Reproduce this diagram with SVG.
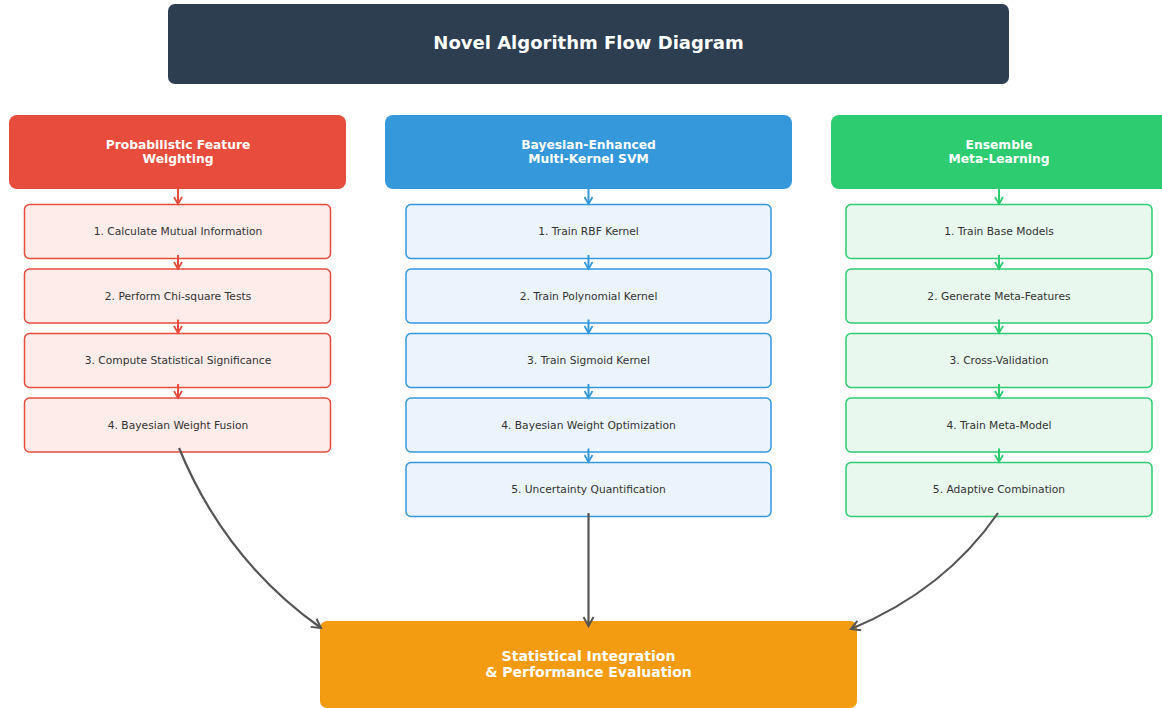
<svg xmlns="http://www.w3.org/2000/svg" width="1162" height="708" viewBox="0 0 1162 708">
<defs>
<style>
.hdr{font-family:"DejaVu Sans",sans-serif;font-weight:bold;font-size:12.3px;fill:#fff;text-anchor:middle}
.st{font-family:"DejaVu Sans",sans-serif;font-size:10.7px;fill:#333;text-anchor:middle}
.ttl{font-family:"DejaVu Sans",sans-serif;font-weight:bold;font-size:18px;fill:#fff;text-anchor:middle}
.fin{font-family:"DejaVu Sans",sans-serif;font-weight:bold;font-size:14px;fill:#fff;text-anchor:middle}
.r{fill:#fdecea;stroke:#e74c3c;stroke-width:1.5}
.b{fill:#ebf4fc;stroke:#3498db;stroke-width:1.5}
.g{fill:#e8f8ef;stroke:#2ecc71;stroke-width:1.5}
.ar{stroke:#e74c3c;stroke-width:2;fill:none;marker-end:url(#mr)}
.ab{stroke:#3498db;stroke-width:2;fill:none;marker-end:url(#mb)}
.ag{stroke:#2ecc71;stroke-width:2;fill:none;marker-end:url(#mg)}
.main{stroke:#555;stroke-width:2.2;fill:none;marker-end:url(#mk)}
</style>
<marker id="mr" markerWidth="10" markerHeight="10" refX="8" refY="5" orient="auto" markerUnits="userSpaceOnUse"><path d="M1,1 L8,5 L1,9" fill="none" stroke="#e74c3c" stroke-width="1.8"/></marker>
<marker id="mb" markerWidth="10" markerHeight="10" refX="8" refY="5" orient="auto" markerUnits="userSpaceOnUse"><path d="M1,1 L8,5 L1,9" fill="none" stroke="#3498db" stroke-width="1.8"/></marker>
<marker id="mg" markerWidth="10" markerHeight="10" refX="8" refY="5" orient="auto" markerUnits="userSpaceOnUse"><path d="M1,1 L8,5 L1,9" fill="none" stroke="#2ecc71" stroke-width="1.8"/></marker>
<marker id="mk" markerWidth="12" markerHeight="12" refX="10" refY="6" orient="auto" markerUnits="userSpaceOnUse"><path d="M1,1 L10,6 L1,11" fill="none" stroke="#555" stroke-width="2"/></marker>
</defs>
<rect width="1162" height="708" fill="#fff"/>
<g id="title"><rect x="168" y="4" width="841" height="80" rx="7" fill="#2c3e50"/><text class="ttl" x="588.5" y="49">Novel Algorithm Flow Diagram</text></g>

<g id="hdr-pfw"><rect x="9" y="115" width="337" height="74" rx="8" fill="#e74c3c"/><text class="hdr" x="178" y="148.5">Probabilistic Feature</text><text class="hdr" x="178" y="162.5">Weighting</text></g>
<g id="hdr-svm"><rect x="385" y="115" width="407" height="74" rx="8" fill="#3498db"/><text class="hdr" x="588.5" y="148.5">Bayesian-Enhanced</text><text class="hdr" x="588.5" y="162.5">Multi-Kernel SVM</text></g>
<g id="hdr-ens"><rect x="831" y="115" width="340" height="74" rx="8" fill="#2ecc71"/><text class="hdr" x="999" y="148.5">Ensemble</text><text class="hdr" x="999" y="162.5">Meta-Learning</text></g>

<g id="r1"><rect class="r" x="24.5" y="204.5" width="306" height="54" rx="5"/><text class="st" x="178" y="235">1. Calculate Mutual Information</text></g>
<g id="r2"><rect class="r" x="24.5" y="269" width="306" height="54" rx="5"/><text class="st" x="178" y="299.5">2. Perform Chi-square Tests</text></g>
<g id="r3"><rect class="r" x="24.5" y="333.5" width="306" height="54" rx="5"/><text class="st" x="178" y="364">3. Compute Statistical Significance</text></g>
<g id="r4"><rect class="r" x="24.5" y="398" width="306" height="54" rx="5"/><text class="st" x="178" y="428.5">4. Bayesian Weight Fusion</text></g>

<g id="b1"><rect class="b" x="406" y="204.5" width="365" height="54" rx="5"/><text class="st" x="588.5" y="235">1. Train RBF Kernel</text></g>
<g id="b2"><rect class="b" x="406" y="269" width="365" height="54" rx="5"/><text class="st" x="588.5" y="299.5">2. Train Polynomial Kernel</text></g>
<g id="b3"><rect class="b" x="406" y="333.5" width="365" height="54" rx="5"/><text class="st" x="588.5" y="364">3. Train Sigmoid Kernel</text></g>
<g id="b4"><rect class="b" x="406" y="398" width="365" height="54" rx="5"/><text class="st" x="588.5" y="428.5">4. Bayesian Weight Optimization</text></g>
<g id="b5"><rect class="b" x="406" y="462.5" width="365" height="54" rx="5"/><text class="st" x="588.5" y="493">5. Uncertainty Quantification</text></g>

<g id="g1"><rect class="g" x="846" y="204.5" width="306" height="54" rx="5"/><text class="st" x="999" y="235">1. Train Base Models</text></g>
<g id="g2"><rect class="g" x="846" y="269" width="306" height="54" rx="5"/><text class="st" x="999" y="299.5">2. Generate Meta-Features</text></g>
<g id="g3"><rect class="g" x="846" y="333.5" width="306" height="54" rx="5"/><text class="st" x="999" y="364">3. Cross-Validation</text></g>
<g id="g4"><rect class="g" x="846" y="398" width="306" height="54" rx="5"/><text class="st" x="999" y="428.5">4. Train Meta-Model</text></g>
<g id="g5"><rect class="g" x="846" y="462.5" width="306" height="54" rx="5"/><text class="st" x="999" y="493">5. Adaptive Combination</text></g>

<g id="final"><rect x="320" y="621" width="537" height="87" rx="7" fill="#f39c12"/><text class="fin" x="588.5" y="661">Statistical Integration</text><text class="fin" x="588.5" y="677">&amp; Performance Evaluation</text></g>

<g id="connectors">
<path class="ar" d="M178,189 V204"/><path class="ar" d="M178,255 V269"/><path class="ar" d="M178,319.5 V333"/><path class="ar" d="M178,384 V398"/>
<path class="ab" d="M588.5,189 V204"/><path class="ab" d="M588.5,255 V269"/><path class="ab" d="M588.5,319.5 V333"/><path class="ab" d="M588.5,384 V398"/><path class="ab" d="M588.5,448.5 V462"/>
<path class="ag" d="M999,189 V204"/><path class="ag" d="M999,255 V269"/><path class="ag" d="M999,319.5 V333"/><path class="ag" d="M999,384 V398"/><path class="ag" d="M999,448.5 V462"/>
<path class="main" d="M179,448 Q225,560 321,628"/>
<path class="main" d="M588.5,513 V626"/>
<path class="main" d="M998,513 Q945,590 851,629"/>
</g>
</svg>
